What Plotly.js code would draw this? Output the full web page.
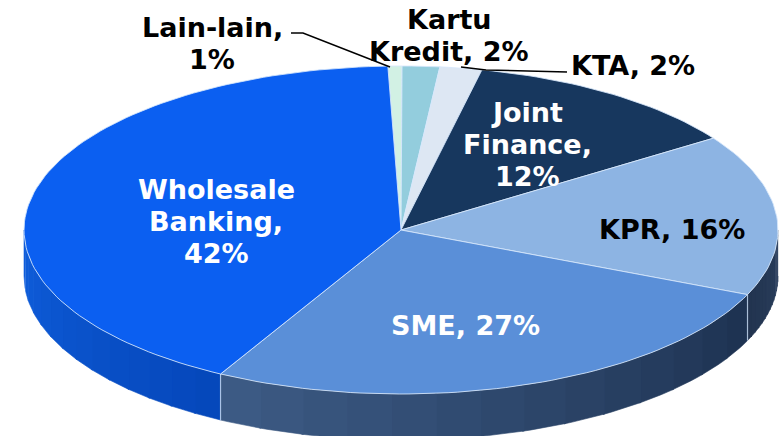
<!DOCTYPE html>
<html>
<head>
<meta charset="utf-8">
<script src="https://cdn.plot.ly/plotly-3.0.1.min.js"></script>
<style>html,body{margin:0;padding:0;background:#fff;}#chart{width:779px;height:436px;}</style>
</head>
<body>
<div id="chart"></div>
<script>
// ---- data (clockwise from the top) ----
const labels = ['Lain-lain', 'Kartu Kredit', 'KTA', 'Joint Finance', 'KPR', 'SME', 'Wholesale Banking'];
const values = [0.6, 1.6, 1.8, 12.1, 15.9, 26.5, 41.5];
const pctLabels = ['1%', '2%', '2%', '12%', '16%', '27%', '42%'];

// ---- styles ----
const topColors  = ['#d2f1e4', '#93cddd', '#dde7f3', '#17375e', '#8db4e3', '#5a8fd8', '#0b5ff1'];
const wallColors = [['#9fb0a8','#9fb0a8'], ['#6a9aa6','#6a9aa6'], ['#a9b3c0','#a9b3c0'], ['#0f2440','#0f2440'],
                    ['#2a3f5e', '#22344f'], ['#1d3150', '#3d5c86'], ['#0547ba', '#0f5edc']];
const textColors = ['#000', '#000', '#000', '#fff', '#000', '#fff', '#fff'];
// label line layout: pieces of the label/percent for each line
const wrap = [
  ['{n},', '{p}'],
  ['Kartu', 'Kredit, {p}'],
  ['{n}, {p}'],
  ['Joint', 'Finance,', '{p}'],
  ['{n}, {p}'],
  ['{n}, {p}'],
  ['Wholesale', 'Banking,', '{p}']
];
// label centres in pixels
const labelPos = [[212, 43], [449, 35], [633, 66], [527, 145], [672, 229], [465, 325], [216, 222]];
const lineH = 32;

const W = 779, H = 436;
const CX = 401, CY = 230, RX = 377, RY = 164;   // ellipse geometry in px
const depth = 46 / RY;                            // wall height in unit coords
const startDeg = -2;

const xr = [-CX / RX, (W - CX) / RX];
const yr = [(CY - H) / RY, CY / RY];
const px2x = p => p / W;
const py2y = p => 1 - p / H;

const total = values.reduce((a, b) => a + b, 0);
const rad = d => d * Math.PI / 180;
function arcPts(a0, a1) {
  const n = Math.max(2, Math.ceil(Math.abs(a1 - a0) / 1.5));
  const xs = [], ys = [];
  for (let k = 0; k <= n; k++) {
    const a = rad(a0 + (a1 - a0) * k / n);
    xs.push(Math.sin(a)); ys.push(Math.cos(a));
  }
  return [xs, ys];
}
function hex2rgb(h) { return [1, 3, 5].map(i => parseInt(h.substr(i, 2), 16)); }
function mix(c0, c1, t) {
  const a = hex2rgb(c0), b = hex2rgb(c1);
  return 'rgb(' + a.map((v, i) => Math.round(v + (b[i] - v) * t)).join(',') + ')';
}

const wallTraces = [], topTraces = [], seamTraces = [];
let cum = 0;
values.forEach((v, i) => {
  const a0 = startDeg + 360 * cum / total;
  cum += v;
  const a1 = startDeg + 360 * cum / total;
  // top face
  const [xs, ys] = arcPts(a0, a1);
  topTraces.push({
    x: [0, ...xs, 0], y: [0, ...ys, 0], type: 'scatter', mode: 'lines',
    fill: 'toself', fillcolor: topColors[i],
    line: {color: 'rgba(215,232,252,0.85)', width: 1}, hoverinfo: 'skip', name: labels[i]
  });
  // front wall
  const lo = Math.max(a0, 90), hi = Math.min(a1, 270);
  if (hi > lo) {
    const N = 14;
    for (let s = 0; s < N; s++) {
      const b0 = lo + (hi - lo) * s / N, b1 = lo + (hi - lo) * (s + 1) / N + (s < N - 1 ? 0.3 : 0);
      const [wx, wy] = arcPts(b0, b1);
      const col = mix(wallColors[i][0], wallColors[i][1], (s + 0.5) / N);
      wallTraces.push({
        x: [...wx, ...wx.slice().reverse()],
        y: [...wy, ...wy.slice().reverse().map(y => y - depth)],
        type: 'scatter', mode: 'lines', fill: 'toself', fillcolor: col,
        line: {color: col, width: 0.6}, hoverinfo: 'skip', showlegend: false
      });
    }
    if (a0 > 90 && a0 < 270) {
      const a = rad(a0);
      seamTraces.push({
        x: [Math.sin(a), Math.sin(a)], y: [Math.cos(a), Math.cos(a) - depth],
        type: 'scatter', mode: 'lines', line: {color: 'rgba(200,220,245,0.8)', width: 1.2},
        hoverinfo: 'skip', showlegend: false
      });
    }
  }
});

const annotations = [];
labels.forEach((lab, i) => {
  const lines = wrap[i].map(t => t.replace('{n}', lab).replace('{p}', pctLabels[i]));
  lines.forEach((t, k) => {
    const py = labelPos[i][1] + (k - (lines.length - 1) / 2) * lineH;
    annotations.push({
      text: t, xref: 'paper', yref: 'paper', x: px2x(labelPos[i][0]), y: py2y(py),
      xanchor: 'center', yanchor: 'middle', showarrow: false,
      font: {family: 'DejaVu Sans', size: 27, color: textColors[i], weight: 'bold'}
    });
  });
});

function pathPx(pts) {
  return pts.map((p, k) => (k ? 'L' : 'M') + px2x(p[0]) + ',' + py2y(p[1])).join(' ');
}
const shapes = [
  {type: 'path', xref: 'paper', yref: 'paper', path: pathPx([[291, 33], [303, 33], [390, 67]]), line: {color: '#000', width: 1.5}},
  {type: 'path', xref: 'paper', yref: 'paper', path: pathPx([[567, 72], [486, 70], [461, 67]]), line: {color: '#000', width: 1.5}}
];

const layout = {
  width: W, height: H, margin: {l: 0, r: 0, t: 0, b: 0},
  paper_bgcolor: '#fff', plot_bgcolor: '#fff', showlegend: false,
  xaxis: {range: xr, visible: false, fixedrange: true},
  yaxis: {range: yr, visible: false, fixedrange: true},
  annotations: annotations, shapes: shapes
};
Plotly.newPlot('chart', [...wallTraces, ...seamTraces, ...topTraces], layout, {displayModeBar: false, staticPlot: true});
</script>
</body>
</html>
